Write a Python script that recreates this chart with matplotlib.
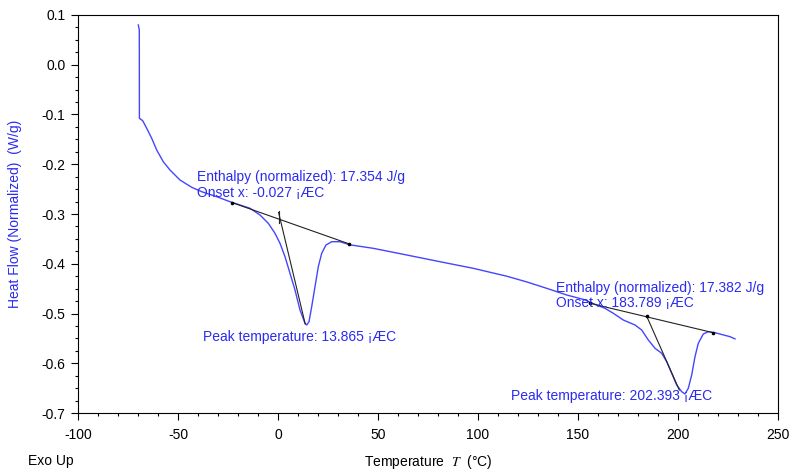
import matplotlib
matplotlib.use('Agg')
import matplotlib.pyplot as plt
from matplotlib.ticker import MultipleLocator, FormatStrFormatter

plt.rcParams['font.family'] = ['Liberation Sans', 'DejaVu Sans']
plt.rcParams['axes.unicode_minus'] = False
plt.rcParams['mathtext.fontset'] = 'stix'

# DSC trace (temperature in degC, heat flow in W/g)
temp = [-69.85, -69.35, -69.3, -67.65, -65.65, -63.15, -60.65, -57.35, -54.0, -49.0,
        -43.15, -38.15, -30.65, -24.0, -19.0, -14.0, -9.0, -4.85, -1.5, 1.0,
        3.5, 6.0, 8.5, 11.0, 13.5, 14.35, 15.5, 16.85, 18.5, 20.15,
        21.85, 24.0, 26.85, 31.0, 36.0, 47.65, 64.35, 81.0, 97.65, 114.35,
        124.35, 134.35, 144.35, 153.0, 159.35, 163.5, 167.65, 172.65, 178.5, 181.85,
        185.15, 188.5, 191.85, 194.35, 196.85, 199.35, 201.85, 203.5, 205.15, 206.85,
        208.5, 210.15, 212.65, 215.15, 218.5, 226.0, 228.5]
heat_flow = [0.080, 0.070, -0.1076, -0.1125, -0.1277, -0.1478, -0.1714, -0.1950, -0.2116, -0.2317,
             -0.2463, -0.2552, -0.2652, -0.2753, -0.2819, -0.2885, -0.3020, -0.3187, -0.3388, -0.3589,
             -0.3858, -0.4192, -0.4528, -0.4930, -0.5197, -0.5231, -0.5165, -0.4863, -0.4461, -0.4059,
             -0.3790, -0.3623, -0.3557, -0.3557, -0.3620, -0.3690, -0.3824, -0.3959, -0.4092, -0.4250,
             -0.4365, -0.4494, -0.4628, -0.4720, -0.4829, -0.4896, -0.4996, -0.5131, -0.5231, -0.5332,
             -0.5533, -0.5699, -0.5800, -0.5969, -0.6202, -0.6437, -0.6572, -0.6618, -0.6503, -0.6236,
             -0.5868, -0.5599, -0.5412, -0.5366, -0.5386, -0.5466, -0.5510]

# analysis construction lines
base1_t = [-23.0, 35.5]
base1_v = [-0.2770, -0.3600]
onset1_t = [0.3, 13.6]
onset1_v = [-0.297, -0.521]
tick1_t = [0.6, 0.6]
tick1_v = [-0.294, -0.318]

base2_t = [156.0, 217.6]
base2_v = [-0.4795, -0.5386]
onset2_t = [184.3, 200.65]
onset2_v = [-0.505, -0.6538]

labels = [
    (-40.3, -0.2266, 'Enthalpy (normalized): 17.354 J/g'),
    (-40.3, -0.258, 'Onset x: -0.027 \u00a1\u00c6C'),
    (-37.3, -0.547, 'Peak temperature: 13.865 \u00a1\u00c6C'),
    (139.0, -0.449, 'Enthalpy (normalized): 17.382 J/g'),
    (139.0, -0.4795, 'Onset x: 183.789 \u00a1\u00c6C'),
    (116.3, -0.666, 'Peak temperature: 202.393 \u00a1\u00c6C'),
]

blue = '#2b2bf0'
fs = 10

fig = plt.figure(figsize=(7.95, 4.72), dpi=100)
ax = fig.add_axes([78/795, 1-413/472, 700/795, 398/472])

ax.plot(temp, heat_flow, color='#4545ff', lw=1.0)

for t, v in [(base1_t, base1_v), (onset1_t, onset1_v), (tick1_t, tick1_v),
             (base2_t, base2_v), (onset2_t, onset2_v)]:
    ax.plot(t, v, color='#222222', lw=0.8)
ax.plot(base1_t + base2_t + [onset2_t[0]], base1_v + base2_v + [onset2_v[0]],
        'o', color='black', ms=1.6)

for x, y, s in labels:
    ax.text(x, y, s, color=blue, fontsize=fs, va='center', ha='left')

ax.set_xlim(-100, 250)
ax.set_ylim(-0.7, 0.1)
ax.xaxis.set_major_locator(MultipleLocator(50))
ax.xaxis.set_minor_locator(MultipleLocator(10))
ax.yaxis.set_major_locator(MultipleLocator(0.1))
ax.yaxis.set_minor_locator(MultipleLocator(0.025))
ax.yaxis.set_major_formatter(FormatStrFormatter('%.1f'))
ax.tick_params(which='both', direction='out', labelsize=fs, top=False, right=False)
ax.tick_params(which='major', length=5, width=0.8)
ax.tick_params(which='minor', length=2.5, width=0.8)
ax.tick_params(axis='x', which='major', pad=6)
ax.tick_params(axis='y', which='major', pad=4)
for sp in ax.spines.values():
    sp.set_linewidth(0.8)

ax.set_ylabel('Heat Flow (Normalized)  (W/g)', color=blue, fontsize=fs)
ax.yaxis.set_label_coords(-56/700, 0.5)
ax.set_xlabel('Temperature  $T$  (\u00b0C)', fontsize=fs, va='center')
ax.xaxis.set_label_coords(0.5, -49/398)
fig.text(28/795, 1-461/472, 'Exo Up', fontsize=fs, va='center', ha='left')

fig.savefig('out.png', dpi=100)
